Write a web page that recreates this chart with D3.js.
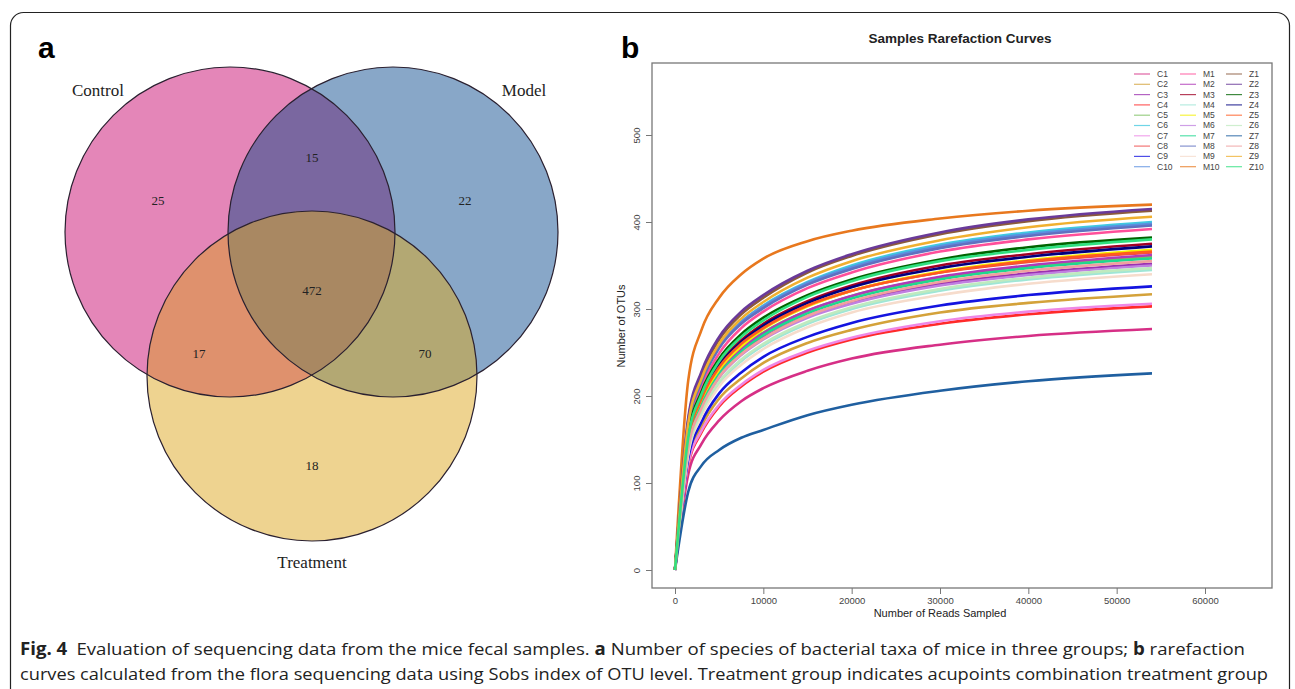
<!DOCTYPE html>
<html>
<head>
<meta charset="utf-8">
<script src="https://cdn.jsdelivr.net/npm/d3@7"></script>
<style>
  body { margin: 0; background: #fff; }
  svg { display: block; }
</style>
</head>
<body>
<div id="chart"></div>
<script>
// Venn data
const vennSets = ['Control', 'Model', 'Treatment'];
const vennCounts = { c: 25, m: 22, t: 18, cm: 15, ct: 17, mt: 70, cmt: 472 };

// rarefaction data
const readsSampled = [0, 1500, 3000, 5000, 7500, 10000, 15000, 20000, 30000, 40000, 54000];
const sampleNames = ['C1', 'C2', 'C3', 'C4', 'C5', 'C6', 'C7', 'C8', 'C9', 'C10',
  'M1', 'M2', 'M3', 'M4', 'M5', 'M6', 'M7', 'M8', 'M9', 'M10',
  'Z1', 'Z2', 'Z3', 'Z4', 'Z5', 'Z6', 'Z7', 'Z8', 'Z9', 'Z10'];
const sampleColors = ['#d62f86', '#d4a23a', '#9b30b0', '#ff2a2a', '#7cc060', '#40c8e0', '#ee88e6', '#f04848', '#1414e0', '#5b8fe0',
  '#ff4f9a', '#b03ab8', '#a00024', '#9fe6d6', '#f4f000', '#c080e0', '#1ed890', '#6070c0', '#f6dccc', '#e8781e',
  '#8b5a3c', '#6a3a9a', '#006400', '#000080', '#ff5a20', '#bfeabf', '#1f5fa0', '#f0a0a0', '#f0b030', '#30e080'];
const otuValues = [
  [0, 110, 145, 172, 194, 209, 229, 243, 259, 269, 277],
  [0, 124, 165, 197, 220, 238, 261, 276, 296, 307, 317],
  [0, 142, 188, 223, 249, 267, 292, 308, 329, 341, 352],
  [0, 120, 158, 188, 211, 228, 250, 265, 283, 294, 303],
  [0, 146, 193, 229, 255, 273, 298, 315, 336, 349, 360],
  [0, 165, 217, 256, 285, 304, 331, 350, 374, 388, 400],
  [0, 122, 160, 190, 213, 230, 252, 267, 286, 297, 306],
  [0, 150, 198, 234, 261, 279, 304, 321, 342, 354, 365],
  [0, 128, 170, 203, 227, 245, 268, 284, 304, 316, 326],
  [0, 166, 218, 257, 285, 303, 330, 348, 372, 386, 398],
  [0, 158, 210, 249, 278, 297, 324, 342, 366, 380, 392],
  [0, 145, 192, 228, 254, 272, 298, 315, 337, 350, 362],
  [0, 150, 200, 237, 264, 283, 309, 327, 350, 363, 375],
  [0, 135, 180, 214, 240, 258, 283, 300, 321, 334, 345],
  [0, 145, 193, 230, 257, 277, 303, 321, 343, 356, 368],
  [0, 140, 186, 221, 247, 265, 290, 306, 327, 339, 350],
  [0, 142, 189, 225, 251, 270, 295, 312, 334, 347, 358],
  [0, 164, 216, 255, 283, 301, 328, 346, 370, 384, 396],
  [0, 133, 177, 211, 236, 254, 279, 296, 316, 329, 340],
  [0, 218, 276, 313, 340, 358, 378, 390, 404, 413, 420],
  [0, 172, 225, 265, 294, 313, 342, 361, 386, 401, 413],
  [0, 175, 228, 268, 297, 316, 344, 363, 388, 403, 415],
  [0, 155, 205, 243, 271, 290, 316, 334, 357, 371, 382],
  [0, 150, 199, 235, 262, 281, 307, 325, 347, 360, 372],
  [0, 148, 197, 233, 260, 278, 304, 321, 342, 355, 366],
  [0, 136, 181, 216, 242, 260, 285, 302, 323, 336, 347],
  [0, 90, 120, 138, 152, 161, 178, 190, 206, 217, 226],
  [0, 140, 186, 222, 248, 266, 292, 309, 331, 344, 355],
  [0, 168, 220, 260, 289, 308, 336, 355, 379, 394, 406],
  [0, 152, 202, 240, 268, 287, 314, 332, 355, 368, 380]
];
const xTicks = [0, 10000, 20000, 30000, 40000, 50000, 60000];
const yTicks = [0, 100, 200, 300, 400, 500];

const width = 1295;
const height = 689;

const svg = d3.select('#chart').append('svg')
  .attr('width', width)
  .attr('height', height);

// figure frame
svg.append('rect')
  .attr('x', 10.5).attr('y', 12.5)
  .attr('width', 1279).attr('height', 720)
  .attr('rx', 13)
  .attr('fill', 'none')
  .attr('stroke', '#222')
  .attr('stroke-width', 1.2);

// panel letters
svg.append('text').attr('x', 38).attr('y', 58).text('a')
  .style('font-family', 'Liberation Sans, Arial').style('font-weight', 'bold').style('font-size', '30px');
svg.append('text').attr('x', 621).attr('y', 58).text('b')
  .style('font-family', 'Liberation Sans, Arial').style('font-weight', 'bold').style('font-size', '30px');

// ---------- a: Venn ----------
const circles = [
  { id: 'cc', cx: 230, cy: 232, r: 165 },
  { id: 'cm', cx: 393, cy: 232, r: 165 },
  { id: 'ct', cx: 312, cy: 376, r: 165 }
];
const defs = svg.append('defs');
circles.forEach(c => {
  defs.append('clipPath').attr('id', 'clip-' + c.id)
    .append('circle').attr('cx', c.cx).attr('cy', c.cy).attr('r', c.r);
});
defs.append('clipPath').attr('id', 'clip-cc-cm')
  .attr('clip-path', 'url(#clip-cc)')
  .append('circle').attr('cx', circles[1].cx).attr('cy', circles[1].cy).attr('r', circles[1].r);

const venn = svg.append('g');
const fill = (c, color, clip) => {
  const el = venn.append('circle').attr('cx', c.cx).attr('cy', c.cy).attr('r', c.r).attr('fill', color);
  if (clip) el.attr('clip-path', 'url(#' + clip + ')');
};
fill(circles[0], '#e486b8');
fill(circles[1], '#88a7c8');
fill(circles[2], '#eed390');
fill(circles[1], '#7a67a0', 'clip-cc');
fill(circles[2], '#df916d', 'clip-cc');
fill(circles[2], '#b3a873', 'clip-cm');
fill(circles[2], '#a98862', 'clip-cc-cm');
venn.selectAll('circle.outline')
  .data(circles)
  .enter()
  .append('circle')
  .attr('class', 'outline')
  .attr('cx', d => d.cx).attr('cy', d => d.cy).attr('r', d => d.r)
  .attr('fill', 'none')
  .attr('stroke', '#2a2030')
  .attr('stroke-width', 1.2);

const vennLabels = [
  { text: vennCounts.c, x: 158, y: 200 },
  { text: vennCounts.cm, x: 312, y: 157 },
  { text: vennCounts.m, x: 465, y: 200 },
  { text: vennCounts.cmt, x: 312, y: 290 },
  { text: vennCounts.ct, x: 199, y: 353 },
  { text: vennCounts.mt, x: 425, y: 353 },
  { text: vennCounts.t, x: 312, y: 465 },
  { text: vennSets[0], x: 98, y: 90, big: true },
  { text: vennSets[1], x: 524, y: 90, big: true },
  { text: vennSets[2], x: 312, y: 562, big: true }
];
venn.selectAll('text')
  .data(vennLabels)
  .enter()
  .append('text')
  .attr('x', d => d.x).attr('y', d => d.y)
  .attr('dy', '.35em')
  .attr('text-anchor', 'middle')
  .text(d => d.text)
  .style('font-family', 'Liberation Serif, Times New Roman')
  .style('font-size', d => d.big ? '17px' : '13px')
  .attr('fill', '#222');

// ---------- b: rarefaction ----------
const box = { left: 652, right: 1272, top: 63, bottom: 588 };
const xScale = d3.scaleLinear().domain([0, 60000]).range([675, 1205]);
const yScale = d3.scaleLinear().domain([0, 500]).range([570, 135]);

const plot = svg.append('g');
plot.append('rect')
  .attr('x', box.left).attr('y', box.top)
  .attr('width', box.right - box.left).attr('height', box.bottom - box.top)
  .attr('fill', 'none').attr('stroke', '#777').attr('stroke-width', 1.3);

plot.append('text').attr('x', 960).attr('y', 43).attr('text-anchor', 'middle')
  .text('Samples Rarefaction Curves')
  .style('font-family', 'Liberation Sans, Arial').style('font-weight', 'bold').style('font-size', '13.5px')
  .attr('fill', '#222');

const xAxis = plot.append('g')
  .attr('transform', `translate(0,${box.bottom})`)
  .call(d3.axisBottom(xScale).tickValues(xTicks).tickSize(6).tickPadding(3).tickFormat(d3.format('d')));
xAxis.select('.domain').remove();
xAxis.selectAll('line').attr('stroke', '#777');
xAxis.selectAll('text').style('font-family', 'Liberation Sans, Arial').style('font-size', '9.5px').attr('fill', '#444');

const yAxis = plot.append('g')
  .attr('transform', `translate(${box.left},0)`)
  .call(d3.axisLeft(yScale).tickValues(yTicks).tickSize(6).tickFormat(d3.format('d')));
yAxis.select('.domain').remove();
yAxis.selectAll('line').attr('stroke', '#777');
yAxis.selectAll('text')
  .attr('x', 0).attr('y', 0).attr('dy', 0)
  .attr('text-anchor', 'middle')
  .attr('transform', 'translate(-12,0) rotate(-90)')
  .style('font-family', 'Liberation Sans, Arial').style('font-size', '9.5px').attr('fill', '#444');

plot.append('text').attr('x', 940).attr('y', 617).attr('text-anchor', 'middle')
  .text('Number of Reads Sampled')
  .style('font-family', 'Liberation Sans, Arial').style('font-size', '11px').attr('fill', '#222');
plot.append('text')
  .attr('transform', 'translate(625,326) rotate(-90)')
  .attr('text-anchor', 'middle')
  .text('Number of OTUs')
  .style('font-family', 'Liberation Sans, Arial').style('font-size', '11px').attr('fill', '#222');

const line = d3.line()
  .x((d, i) => xScale(readsSampled[i]))
  .y(d => yScale(d))
  .curve(d3.curveMonotoneX);

plot.append('g').selectAll('path')
  .data(otuValues)
  .enter()
  .append('path')
  .attr('d', d => line(d))
  .attr('fill', 'none')
  .attr('stroke', (d, i) => sampleColors[i])
  .attr('stroke-width', 2.6);

// legend
const legend = plot.append('g');
legend.selectAll('g')
  .data(sampleNames)
  .enter()
  .append('g')
  .attr('transform', (d, i) => `translate(${1134 + Math.floor(i / 10) * 46},${74 + (i % 10) * 10.3})`)
  .each(function (d, i) {
    const g = d3.select(this);
    g.append('line').attr('x1', 0).attr('x2', 16).attr('y1', 0).attr('y2', 0)
      .attr('stroke', sampleColors[i]).attr('stroke-width', 1.2).attr('opacity', 0.75);
    g.append('text').attr('x', 23).attr('dy', '.35em').text(d)
      .style('font-family', 'Liberation Sans, Arial').style('font-size', '8.5px').attr('fill', '#444');
  });

// caption
const cap = svg.append('g').style('font-family', 'Open Sans, Noto Sans').style('font-size', '17px').attr('fill', '#222');
const l1 = cap.append('text').attr('x', 20).attr('y', 655)
  .attr('textLength', 1225).attr('lengthAdjust', 'spacingAndGlyphs');
l1.append('tspan').style('font-weight', 'bold').text('Fig. 4');
l1.append('tspan').text('\u2002Evaluation of sequencing data from the mice fecal samples. ');
l1.append('tspan').style('font-weight', 'bold').text('a');
l1.append('tspan').text(' Number of species of bacterial taxa of mice in three groups; ');
l1.append('tspan').style('font-weight', 'bold').text('b');
l1.append('tspan').text(' rarefaction');
cap.append('text').attr('x', 20).attr('y', 680)
  .attr('textLength', 1248).attr('lengthAdjust', 'spacingAndGlyphs')
  .text('curves calculated from the flora sequencing data using Sobs index of OTU level. Treatment group indicates acupoints combination treatment group');
</script>
</body>
</html>
